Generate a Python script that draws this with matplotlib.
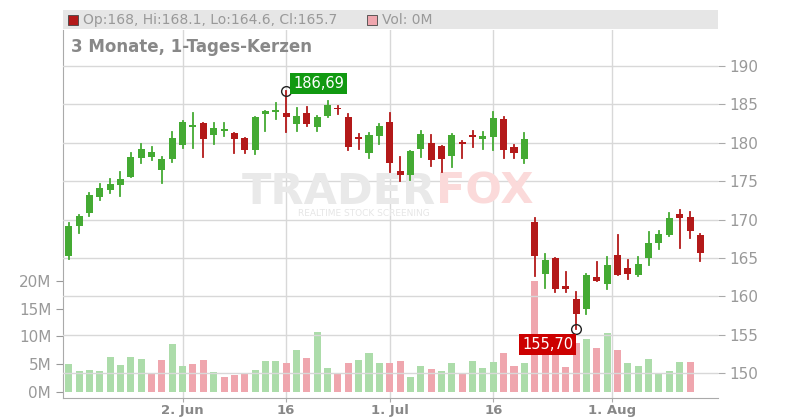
import numpy as np
import matplotlib.pyplot as plt
from matplotlib.patches import Rectangle

# OHLC, 62 daily candles
opens = [165.2, 169.2, 170.9, 172.9, 173.85, 174.5, 175.6, 178.05, 178.2, 176.4,
         177.9, 179.75, 182.1, 182.6, 181.05, 181.6, 181.3, 180.6, 179.0, 183.8,
         183.96, 183.9, 182.5, 183.9, 182.1, 183.5, 184.5, 183.35, 180.75, 178.7,
         180.9, 182.7, 176.3, 175.8, 179.2, 179.97, 179.6, 178.3, 180.1, 181.0,
         180.5, 180.8, 183.1, 179.45, 177.9, 169.7, 162.9, 165.0, 161.3, 159.6,
         158.4, 162.5, 161.6, 165.4, 163.7, 162.8, 165.0, 166.9, 168.0, 170.7,
         170.3, 168.0]
highs = [169.5, 170.6, 173.4, 174.6, 175.3, 176.2, 178.7, 179.8, 179.4, 178.1,
         181.4, 182.8, 183.9, 182.6, 182.6, 182.6, 181.3, 180.6, 183.4, 184.1,
         185.2, 186.69, 184.5, 184.7, 183.5, 185.4, 184.8, 183.75, 181.1, 181.3,
         182.4, 183.9, 178.1, 178.9, 181.5, 181.0, 179.6, 181.1, 180.2, 181.5,
         181.4, 184.0, 183.35, 179.7, 181.3, 170.2, 165.5, 165.0, 163.1, 160.6,
         162.9, 164.5, 165.1, 168.0, 164.7, 165.1, 168.4, 168.5, 170.8, 171.2,
         171.0, 168.1]
lows = [164.9, 168.3, 170.4, 172.6, 173.5, 173.1, 175.6, 177.4, 177.75, 174.8,
        177.5, 179.3, 179.3, 178.2, 179.9, 180.9, 178.7, 178.7, 178.6, 181.6,
        183.1, 181.45, 181.6, 182.2, 181.6, 183.3, 183.7, 179.1, 179.2, 178.05,
        179.9, 176.2, 175.06, 175.2, 178.2, 177.0, 176.2, 176.9, 178.05, 179.4,
        179.2, 179.1, 178.05, 178.05, 177.4, 162.7, 161.1, 160.5, 160.6, 155.7,
        157.7, 162.0, 161.0, 162.8, 162.3, 162.7, 164.1, 166.1, 167.9, 166.3,
        167.6, 164.6]
closes = [169.15, 170.46, 173.2, 174.15, 174.6, 175.3, 178.15, 179.2, 178.8, 177.9,
          180.6, 182.75, 182.35, 180.5, 181.9, 181.8, 180.5, 179.0, 183.4, 184.1,
          184.27, 183.3, 183.5, 182.5, 183.4, 184.9, 184.4, 179.5, 180.5, 181.0,
          182.2, 177.4, 175.8, 178.9, 181.1, 177.7, 177.9, 181.0, 179.9, 180.7,
          180.9, 183.2, 179.1, 178.7, 180.5, 165.2, 164.7, 161.0, 160.9, 157.7,
          162.8, 162.0, 164.1, 162.8, 162.9, 164.2, 166.9, 168.1, 170.2, 170.24,
          168.5, 165.7]
# volume in millions
volumes = [5.0, 3.8, 4.0, 3.8, 6.3, 4.85, 6.3, 5.9, 3.2, 5.75,
           8.6, 4.7, 5.0, 5.75, 3.6, 2.7, 3.05, 3.2, 4.0, 5.6,
           5.6, 5.2, 7.5, 6.1, 10.8, 4.3, 3.2, 5.2, 5.75, 7.0,
           5.2, 5.2, 5.6, 2.7, 4.7, 4.1, 3.8, 5.2, 3.4, 5.6,
           4.3, 5.4, 7.0, 4.7, 5.2, 19.9, 10.0, 9.0, 4.5, 8.8,
           9.5, 7.9, 10.6, 7.5, 5.2, 4.7, 5.9, 3.4, 3.8, 5.4,
           5.4, 0.0]

date_ticks = [11, 21, 31, 41, 52.5]
date_labels = ['2. Jun', '16', '1. Jul', '16', '1. Aug']
price_ticks = [150, 155, 160, 165, 170, 175, 180, 185, 190]
vol_ticks = [0, 5, 10, 15, 20]

GREEN = '#44aa33'
RED = '#b31919'
VGREEN = '#acdcaa'
VRED = '#efa6ae'
GRID = '#d8d8d8'
TXT = '#999999'

fig = plt.figure(figsize=(8, 4.2), dpi=100)
ax_v = fig.add_axes([63/800, 22/420, 655/800, 368/420])
ax_p = ax_v.twinx()

x = np.arange(len(opens))
ax_v.set_xlim(-0.55, 62.7)
ax_v.set_ylim(-1.08, 65.1)
ax_p.set_ylim(146.74, 194.7)

# volume bars, coloured by change vs previous close
vcol = [VGREEN if i == 0 or closes[i] >= closes[i-1] else VRED for i in range(len(closes))]
ax_v.bar(x, volumes, width=0.68, color=vcol, zorder=2)

# grid
for t in price_ticks:
    ax_p.axhline(t, color=GRID, lw=1, zorder=0)
for t in date_ticks:
    ax_v.axvline(t, color=GRID, lw=1, zorder=0)

# watermark
ax_p.text(35.5, 173.6, 'TRADER', fontsize=31, fontweight='bold', color='#e9e9e9',
          ha='right', va='center', zorder=1)
ax_p.text(35.5, 173.6, 'FOX', fontsize=31, fontweight='bold', color='#fbdada',
          ha='left', va='center', zorder=1)
ax_p.text(28.5, 170.8, 'REALTIME STOCK SCREENING', fontsize=6.5, color='#e6e6e6',
          ha='center', va='center', zorder=1)

# candles
for i in x:
    o, h, l, c = opens[i], highs[i], lows[i], closes[i]
    col = GREEN if c >= o else RED
    ax_p.plot([i, i], [l, h], color=col, lw=1.3, zorder=3)
    bot = min(o, c)
    hgt = max(abs(c - o), 0.15)
    ax_p.add_patch(Rectangle((i - 0.34, bot), 0.68, hgt, color=col, zorder=4, lw=0))

# high / low markers
ih = int(np.argmax(highs))
il = int(np.argmin(lows))
ax_p.plot(ih, highs[ih], 'o', mfc='none', mec='#222222', ms=7, mew=1, zorder=5)
ax_p.plot(il, lows[il], 'o', mfc='none', mec='#222222', ms=7, mew=1, zorder=5)
ax_p.annotate(f'{highs[ih]:.2f}'.replace('.', ','), (ih, highs[ih]), xytext=(5, 6),
              textcoords='offset points', color='white', fontsize=10.5, va='center', ha='left',
              bbox=dict(boxstyle='square,pad=0.2', fc='#119911', ec='none'), zorder=6)
ax_p.annotate(f'{lows[il]:.2f}'.replace('.', ','), (il, lows[il]), xytext=(-2, -11),
              textcoords='offset points', color='white', fontsize=10.5, va='center', ha='right',
              bbox=dict(boxstyle='square,pad=0.2', fc='#cc0000', ec='none'), zorder=6)

# axes styling
for a in (ax_v, ax_p):
    for s in a.spines.values():
        s.set_visible(False)
ax_v.spines['left'].set_visible(True)
ax_v.spines['left'].set_color('#aaaaaa')
ax_v.spines['bottom'].set_visible(True)
ax_v.spines['bottom'].set_color('#aaaaaa')

ax_v.set_yticks(vol_ticks)
ax_v.set_yticklabels([f'{v}M' for v in vol_ticks])
ax_v.tick_params(axis='y', colors='#999999', labelcolor=TXT, labelsize=11, length=5, direction='out')
ax_v.set_xticks(date_ticks)
ax_v.set_xticklabels(date_labels)
ax_v.tick_params(axis='x', colors='#aaaaaa', labelcolor='#888888', labelsize=9.5, length=3, pad=1)
for lbl in ax_v.get_xticklabels():
    lbl.set_fontweight('bold')

ax_p.set_yticks(price_ticks)
ax_p.tick_params(axis='y', colors='#aaaaaa', labelcolor=TXT, labelsize=11, length=5, pad=3)

# header band
fig.patches.append(Rectangle((63/800, 391/420), 655/800, 19/420, transform=fig.transFigure,
                             fc='#e6e6e6', ec='none'))
fig.patches.append(Rectangle((68/800, 395/420), 10/800, 10/420, transform=fig.transFigure,
                             fc=RED, ec='#444444', lw=0.6))
fig.text(83/800, 400/420, f'Op:{opens[-1]:g}, Hi:{highs[-1]:g}, Lo:{lows[-1]:g}, Cl:{closes[-1]:g}',
         fontsize=10, color='#999999', va='center')
fig.patches.append(Rectangle((367/800, 395/420), 10/800, 10/420, transform=fig.transFigure,
                             fc=VRED, ec='#444444', lw=0.6))
fig.text(382/800, 400/420, f'Vol: {volumes[-1]:g}M', fontsize=10, color='#999999', va='center')
fig.text(71/800, 373/420, '3 Monate, 1-Tages-Kerzen', fontsize=12, fontweight='bold',
         color='#888888', va='center')

fig.savefig('out.png', dpi=100)
